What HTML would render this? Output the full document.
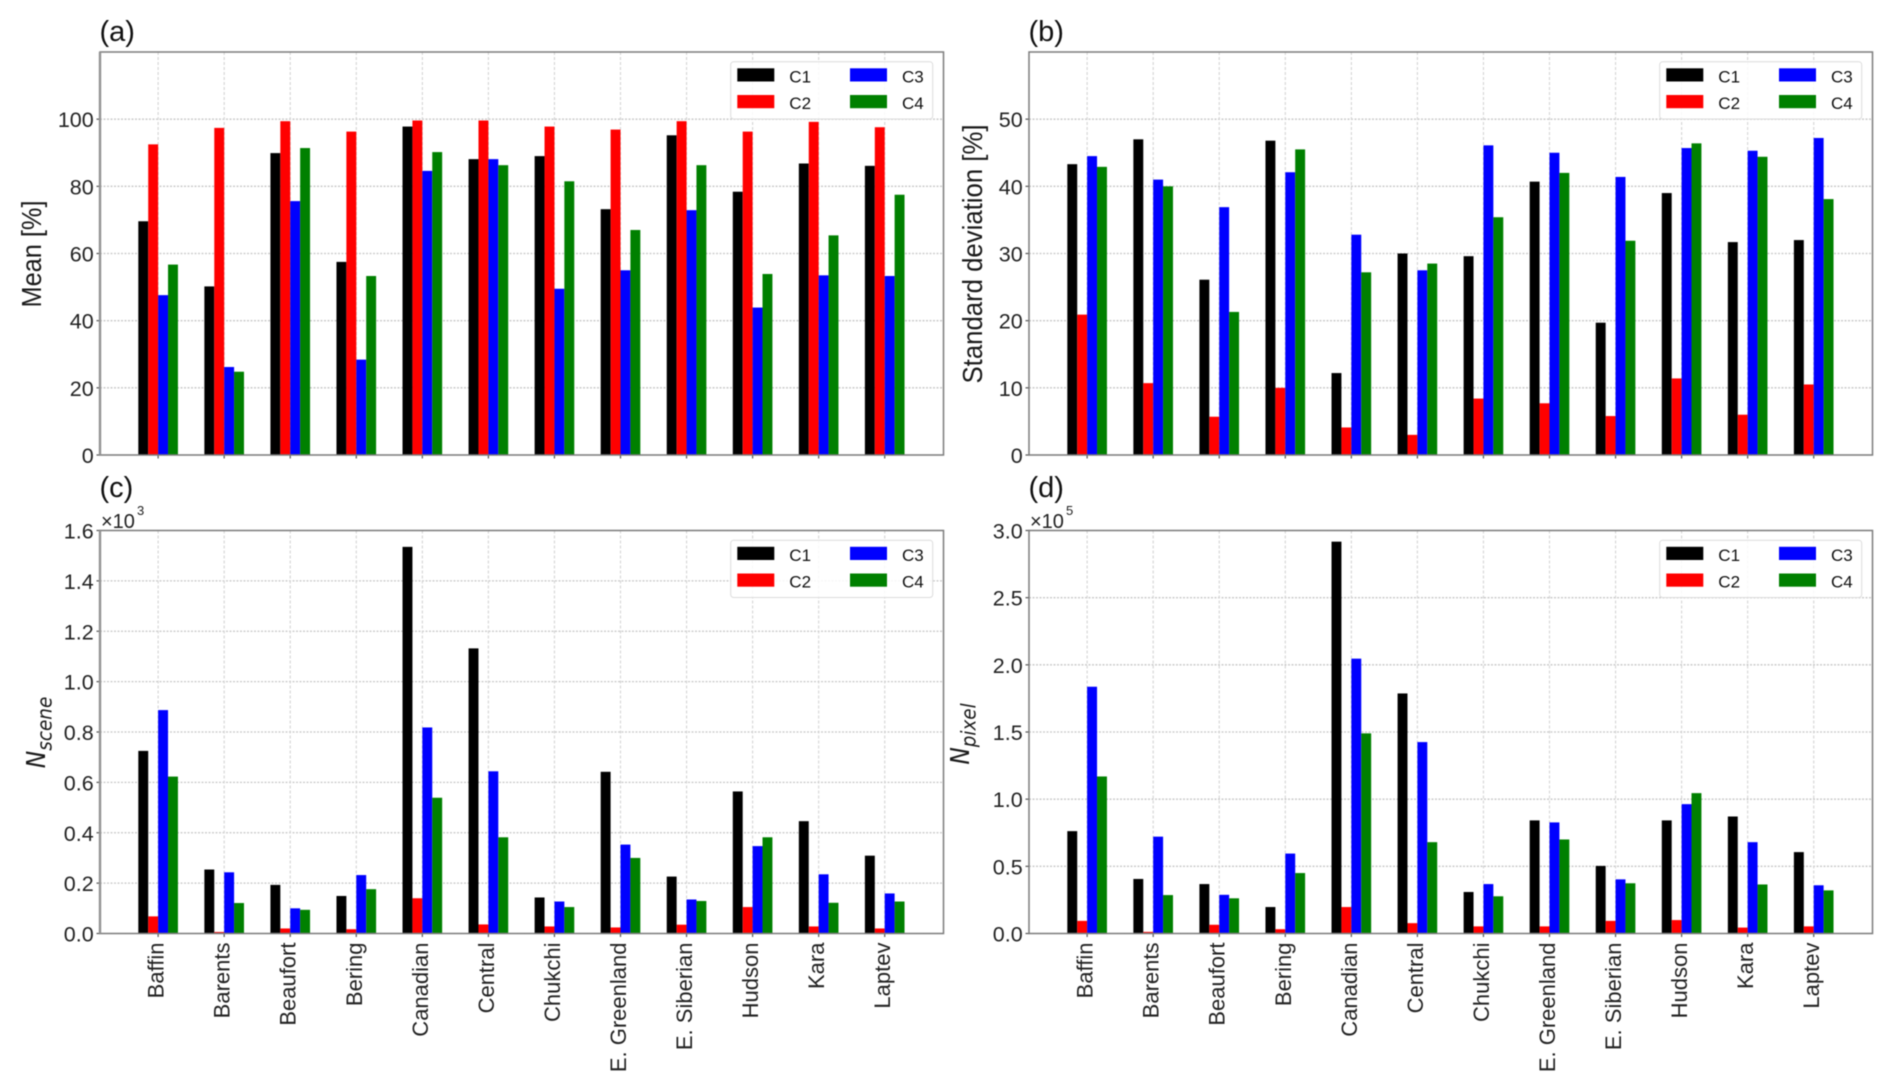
<!DOCTYPE html>
<html lang="en">
<head>
<meta charset="utf-8">
<title>Regional statistics bar charts</title>
<style>
html,body{margin:0;padding:0;background:#fff;}
body{width:1892px;height:1089px;overflow:hidden;}
svg{display:block;font-family:"Liberation Sans",Arial,sans-serif;filter:blur(0.45px);}
</style>
</head>
<body>
<svg id="figure" xmlns="http://www.w3.org/2000/svg" width="1892" height="1089" viewBox="0 0 1892 1089"></svg>
<script>
const categories = ["Baffin","Barents","Beaufort","Bering","Canadian","Central","Chukchi","E. Greenland","E. Siberian","Hudson","Kara","Laptev"];
const seriesNames = ["C1","C2","C3","C4"];
const seriesColors = ["#000000","#ff0000","#0000ff","#008000"];

const meanC1 = [69.6,50.2,89.9,57.5,97.8,88.1,89.0,73.2,95.2,78.4,86.8,86.1];
const meanC2 = [92.5,97.4,99.4,96.3,99.6,99.6,97.8,96.9,99.4,96.3,99.2,97.6];
const meanC3 = [47.6,26.2,75.6,28.4,84.6,88.1,49.5,55.0,72.9,43.9,53.5,53.3];
const meanC4 = [56.7,24.8,91.4,53.3,90.2,86.3,81.5,67.0,86.3,53.9,65.4,77.5];
const meanTicks = ["0","20","40","60","80","100"];

const stdC1 = [43.3,47.0,26.1,46.8,12.2,30.0,29.6,40.7,19.7,39.0,31.7,32.0];
const stdC2 = [20.9,10.7,5.7,10.0,4.1,3.0,8.4,7.7,5.8,11.4,6.0,10.5];
const stdC3 = [44.5,41.0,36.9,42.1,32.8,27.5,46.1,45.0,41.4,45.7,45.3,47.2];
const stdC4 = [42.9,40.0,21.3,45.5,27.2,28.5,35.4,42.0,31.9,46.4,44.4,38.1];
const stdTicks = ["0","10","20","30","40","50"];

const sceneC1 = [0.725,0.254,0.193,0.149,1.535,1.132,0.143,0.642,0.226,0.564,0.446,0.309];
const sceneC2 = [0.068,0.006,0.020,0.017,0.140,0.036,0.028,0.024,0.035,0.105,0.028,0.020];
const sceneC3 = [0.887,0.243,0.100,0.232,0.818,0.644,0.127,0.353,0.135,0.347,0.235,0.159];
const sceneC4 = [0.623,0.121,0.094,0.176,0.539,0.382,0.105,0.300,0.129,0.382,0.122,0.127];
const sceneTicks = ["0.0","0.2","0.4","0.6","0.8","1.0","1.2","1.4","1.6"];

const pixelC1 = [0.762,0.406,0.368,0.197,2.917,1.787,0.309,0.842,0.503,0.842,0.871,0.606];
const pixelC2 = [0.094,0.012,0.065,0.032,0.197,0.077,0.053,0.053,0.094,0.100,0.044,0.053];
const pixelC3 = [1.837,0.721,0.288,0.595,2.046,1.425,0.368,0.827,0.403,0.963,0.680,0.359];
const pixelC4 = [1.169,0.286,0.262,0.450,1.490,0.680,0.277,0.700,0.374,1.045,0.365,0.321];
const pixelTicks = ["0.0","0.5","1.0","1.5","2.0","2.5","3.0"];

const NS = "http://www.w3.org/2000/svg";
const svg = document.getElementById("figure");

function make(parent, tag, attrs, text) {
  const el = document.createElementNS(NS, tag);
  for (const k in attrs) el.setAttribute(k, attrs[k]);
  if (text !== undefined) el.textContent = text;
  parent.appendChild(el);
  return el;
}

const panels = [
  {id:"a", title:"(a)", left:100, top:52, yMax:120, ticks:meanTicks, series:[meanC1,meanC2,meanC3,meanC4],
   yLabel:"Mean [%]", yLabelX:41, yLabelLen:107, yLabelCy:254, xLabels:false, titleBase:41, thickLeft:true},
  {id:"b", title:"(b)", left:1029, top:52, yMax:60, ticks:stdTicks, series:[stdC1,stdC2,stdC3,stdC4],
   yLabel:"Standard deviation [%]", yLabelX:982, yLabelLen:259, yLabelCy:254, xLabels:false, titleBase:41, thickLeft:false},
  {id:"c", title:"(c)", left:100, top:530.5, yMax:1.6, ticks:sceneTicks, series:[sceneC1,sceneC2,sceneC3,sceneC4],
   subBase:"N", subText:"scene", yLabelX:45, yLabelLen:71.6, yLabelCy:732.5, xLabels:true, exponent:"3", titleBase:497, thickLeft:true},
  {id:"d", title:"(d)", left:1029, top:530.5, yMax:3.0, ticks:pixelTicks, series:[pixelC1,pixelC2,pixelC3,pixelC4],
   subBase:"N", subText:"pixel", yLabelX:969, yLabelLen:61.3, yLabelCy:734, xLabels:true, exponent:"5", titleBase:497, thickLeft:false}
];

const plotW = 843.5;
const plotH = 403;
const xMin = -0.88;
const xMax = 11.89;
const barUnits = 0.15;

function drawPanel(p) {
  const g = make(svg, "g", {});
  
  

  const xScale = function (v) { return p.left + (v - xMin) / (xMax - xMin) * plotW; };
  const yScale = function (v) { return p.top + plotH - v / p.yMax * plotH; };
  const barW = xScale(barUnits) - xScale(0);
  const bottom = p.top + plotH;

  const title = make(g, "text", {x:p.left - 0.5, y:p.titleBase, "font-size":29, fill:"#111"}, p.title);
  
  

  // grid
  p.ticks.forEach(function (t) {
    const y = yScale(parseFloat(t));
    const line = make(g, "line", {x1:p.left, x2:p.left + plotW, y1:y, y2:y, stroke:"#c8c8c8", "stroke-width":1.3, "stroke-dasharray":"2 1.5"});
    
    
  });
  categories.forEach(function (c, i) {
    const x = xScale(i);
    const line = make(g, "line", {x1:x, x2:x, y1:p.top, y2:bottom, stroke:"#d4d4d4", "stroke-width":1.1, "stroke-dasharray":"3 2"});
    
    
  });

  // bars
  p.series.forEach(function (values, s) {
    values.forEach(function (v, i) {
      const x = xScale(i + (s - 2) * barUnits);
      const y = yScale(v);
      const bar = make(g, "rect", {x:x, y:y, width:barW, height:yScale(0) - y, fill:seriesColors[s]});
      
      
    });
  });

  // y ticks
  p.ticks.forEach(function (t) {
    const y = yScale(parseFloat(t));
    const tick = make(g, "line", {x1:p.left - 3.5, x2:p.left, y1:y, y2:y, stroke:"#555", "stroke-width":1.2});
    
    
    const label = make(g, "text", {x:p.left - 6.3, y:y + 8, "text-anchor":"end", "font-size":21.5, fill:"#222"}, t);
    
    
  });

  // x ticks and labels
  categories.forEach(function (c, i) {
    const x = xScale(i);
    const tick = make(g, "line", {x1:x, x2:x, y1:bottom, y2:bottom + 3.5, stroke:"#555", "stroke-width":1.2});
    
    
    if (p.xLabels) {
      const lx = x + 5.5;
      const ly = bottom + 9;
      const label = make(g, "text", {x:lx, y:ly, "text-anchor":"end", "font-size":22, fill:"#222", transform:"rotate(-90 " + lx + " " + ly + ")"}, c);
      
      
    }
  });

  // spines
  const frame = make(g, "rect", {x:p.left, y:p.top, width:plotW, height:plotH, fill:"none", stroke:"#7c7c7c", "stroke-width":1.5});
  
  
  if (p.thickLeft) {
    const spine = make(g, "line", {x1:p.left, x2:p.left, y1:p.top, y2:bottom, stroke:"#929292", "stroke-width":2.4});
    
    
  }

  // y axis title
  const cy = p.yLabelCy;
  if (p.yLabel) {
    const yTitle = make(g, "text", {x:p.yLabelX, y:cy, "text-anchor":"middle", "font-size":28, fill:"#1a1a1a",
      textLength:p.yLabelLen, lengthAdjust:"spacingAndGlyphs",
      transform:"rotate(-90 " + p.yLabelX + " " + cy + ")"}, p.yLabel);
    
    
  } else {
    const yTitle = make(g, "text", {x:p.yLabelX, y:cy, "text-anchor":"middle", "font-family":'"DejaVu Sans",sans-serif', "font-style":"italic", fill:"#1a1a1a",
      textLength:p.yLabelLen, lengthAdjust:"spacingAndGlyphs",
      transform:"rotate(-90 " + p.yLabelX + " " + cy + ")"});
    
    
    make(yTitle, "tspan", {"font-size":25.5}, p.subBase);
    make(yTitle, "tspan", {"font-size":20, dy:6.7}, p.subText);
    // scale exponent
    const sx = p.left + 1;
    const mult = make(g, "text", {x:sx, y:p.top - 2.3, "font-size":20, fill:"#222"}, "\u00d710");
    
    
    const exp = make(g, "text", {x:sx + 36, y:p.top - 15.5, "font-size":13, fill:"#222"}, p.exponent);
    
    
  }

  // legend
  const lg = make(g, "g", {});
  
  
  const lx = p.left + 630.7;
  const ly = p.top + 9.7;
  make(lg, "rect", {x:lx, y:ly, width:202, height:57.3, rx:3, ry:3, fill:"#fff", "fill-opacity":0.85, stroke:"#dcdcdc", "stroke-width":1});
  seriesNames.forEach(function (name, s) {
    const col = s < 2 ? 0 : 1;
    const row = s % 2;
    const ex = lx + 6.6 + col * 112.7;
    const ey = ly + 6.6 + row * 26.7;
    const entry = make(lg, "g", {});
    
    
    make(entry, "rect", {x:ex, y:ey, width:37, height:13.2, fill:seriesColors[s]});
    make(entry, "text", {x:ex + 52, y:ey + 14, "font-size":17, fill:"#111"}, name);
  });
}

panels.forEach(drawPanel);
</script>
</body>
</html>
